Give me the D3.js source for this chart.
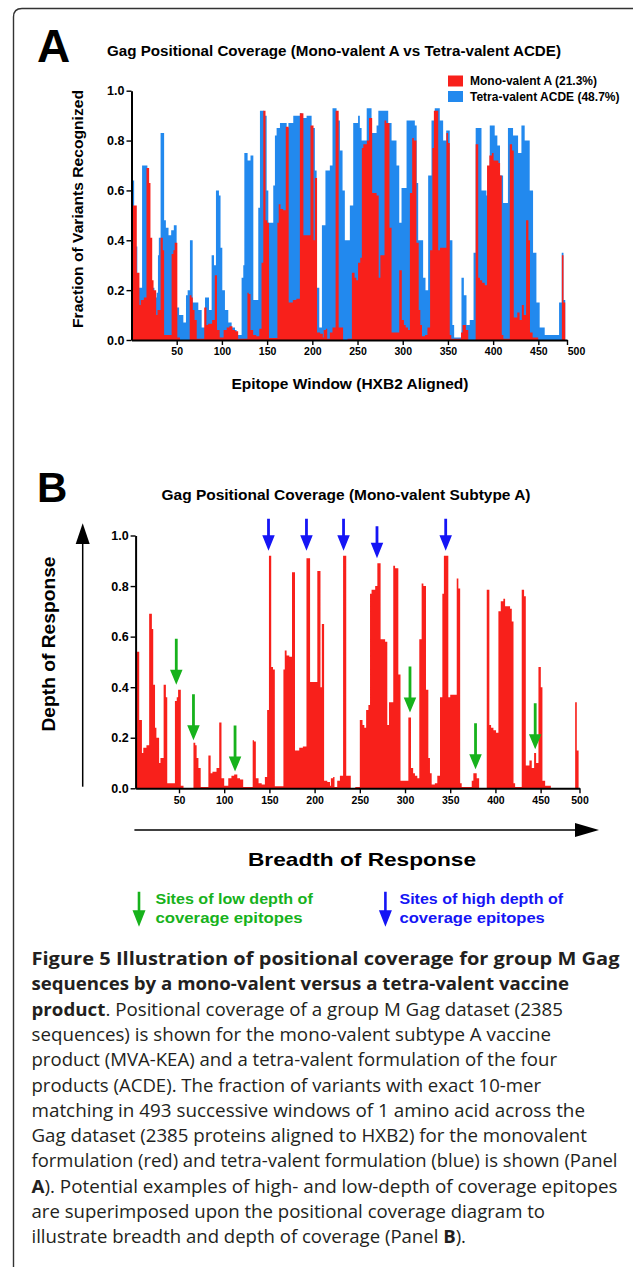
<!DOCTYPE html>
<html><head><meta charset="utf-8">
<script src="https://cdn.jsdelivr.net/npm/d3@7"></script>
<style>
html,body{margin:0;padding:0;background:#fff;}
svg{display:block;}
</style></head><body>
<svg id="fig" width="633" height="1267"></svg>
<script>
// ---------------- DATA ----------------
// [epitope window, fraction of variants recognized] step values
const monoSteps = [[0.5,0.54],[6,0.27],[9,0.14],[10.5,0.16],[14,0.17],[17,0.69],[20,0.63],[21.5,0.41],[23.5,0.24],[25,0.20],[28,0.10],[29.5,0.12],[33,0.41],[35.5,0.36],[37,0.02],[45.5,0.345],[47.5,0.36],[49,0.39],[52,0.01],[55,0.0],[66,0.18],[68,0.17],[69.5,0.12],[71.5,0.08],[74,0.005],[82.5,0.13],[85,0.06],[87,0.065],[91.5,0.08],[94.5,0.26],[97,0.04],[100,0.01],[104.5,0.04],[108,0.05],[111,0.055],[114.5,0.04],[117.5,0.035],[121,0.005],[131.5,0.19],[133,0.185],[135,0.04],[138,0.02],[141.5,0.015],[145,0.045],[147.5,0.31],[149.5,0.92],[152,0.48],[154,0.47],[156,0.008],[165.5,0.47],[167,0.545],[169,0.525],[172,0.52],[175,0.855],[178.3,0.15],[183,0.16],[187,0.165],[191,0.91],[195,0.42],[203,0.86],[206.5,0.40],[208,0.65],[210.5,0.03],[214,0.025],[217,0.01],[218,0.04],[220.5,0.045],[222,0.005],[225,0.03],[228,0.05],[231.5,0.92],[235,0.05],[240,0.0],[245,0.005],[250,0.27],[253,0.25],[255,0.24],[257,0.31],[259.5,0.33],[261.3,0.77],[263,0.785],[267,0.80],[269.4,0.89],[273,0.59],[278,0.58],[280.4,0.25],[282.3,0.34],[287,0.88],[289,0.87],[292.6,0.45],[295,0.03],[303.7,0.28],[306.6,0.08],[309,0.06],[311,0.05],[313.6,0.04],[315.8,0.59],[318.4,0.81],[320.3,0.80],[323.2,0.39],[325.8,0.12],[327.6,0.06],[329.5,0.015],[333,0.02],[335.7,0.05],[338.7,0.36],[341.3,0.77],[343,0.92],[347.9,0.36],[350,0.37],[357.2,0.83],[359,0.79],[361,0.02],[362.7,0.005],[373.8,0.03],[375.6,0.06],[379.3,0.04],[382,0.0],[390.4,0.785],[393.3,0.25],[395.2,0.24],[397.8,0.23],[400.7,0.22],[403.3,0.70],[405.9,0.74],[408.8,0.75],[410.7,0.72],[416.2,0.71],[418.1,0.66],[420,0.02],[421.8,0.005],[429.1,0.785],[431.7,0.76],[433.6,0.09],[437.6,0.11],[440.2,0.08],[442.8,0.14],[445,0.10],[447.6,0.48],[450.2,0.40],[452,0.03],[455,0.01],[461.3,0.0],[488.2,0.34],[490,0.15],[492,0]];

const tetraSteps = [[0,0.72],[1.5,0.64],[3,0.375],[6.6,0.21],[12,0.70],[18,0.46],[20.2,0.26],[23,0.21],[26,0.17],[28.5,0.19],[30,0.34],[31,0.41],[33,0.83],[37,0.48],[39,0.45],[42,0.42],[45,0.44],[48,0.46],[51.2,0.13],[54,0.10],[58.8,0.07],[61.8,0.18],[63.7,0.20],[66.3,0.40],[69.4,0.15],[75.8,0.12],[79.6,0.05],[83.4,0.17],[87.9,0.12],[90.9,0.34],[93.6,0.30],[95.8,0.60],[99.2,0.58],[101,0.37],[103,0.20],[106,0.12],[109.8,0.07],[113.6,0.05],[117.4,0.04],[119.2,0.02],[124.9,0.25],[126.8,0.30],[128,0.75],[131.7,0.72],[135,0.74],[138.2,0.16],[143.8,0.53],[145.7,0.92],[150.3,0.90],[153.3,0.60],[155.2,0.47],[160.8,0.62],[162.7,0.82],[164.6,0.85],[168.4,0.87],[176,0.85],[178,0.87],[183.5,0.90],[191,0.91],[193,0.89],[198.6,0.90],[204.3,0.85],[208,0.68],[210,0.21],[213,0.05],[216,0.46],[220,0.68],[225,0.70],[228,0.93],[232.6,0.88],[236.4,0.76],[239.4,0.60],[242,0.40],[247.7,0.54],[251.5,0.87],[257,0.90],[259,0.85],[261,0.80],[266.8,0.93],[272.3,0.83],[278,0.86],[280,0.92],[291.2,0.87],[295,0.80],[300.6,0.70],[303.7,0.47],[306.3,0.61],[312,0.88],[321.4,0.86],[323.5,0.63],[325.2,0.40],[330.8,0.25],[333.5,0.20],[336.5,0.66],[340.3,0.88],[344,0.93],[349.7,0.88],[353.5,0.80],[357,0.84],[361,0.40],[364,0.06],[366,0.01],[374.3,0.25],[377,0.18],[380,0.06],[383.7,0.08],[388,0.35],[390.4,0.85],[397,0.60],[402.6,0.58],[406.4,0.86],[412,0.82],[415,0.78],[418,0.66],[421.5,0.55],[427,0.85],[432.8,0.82],[438.5,0.75],[442.3,0.86],[446,0.80],[451.7,0.60],[455.5,0.35],[459.3,0.15],[463,0.05],[468.7,0.02],[485,0.15],[488,0.35],[490,0.16],[492,0]];

const xTicks = [50,100,150,200,250,300,350,400,450];
const xEndLabel = "500";
const yTicks = [0,0.2,0.4,0.6,0.8,1.0];

const legendLabels = ["Mono-valent A (21.3%)", "Tetra-valent ACDE (48.7%)"];

// epitope sites marked in panel B: [window, depth at arrow tip]
const highSites = [149, 191, 232, 269, 345];
const highTips  = [0.94, 0.94, 0.94, 0.91, 0.94];
const lowSites  = [47, 66, 112, 305.5, 378, 444];
const lowTips   = [0.41, 0.19, 0.066, 0.30, 0.075, 0.154];

const titleA = "Gag Positional Coverage (Mono-valent A vs Tetra-valent ACDE)";
const titleB = "Gag Positional Coverage (Mono-valent Subtype A)";
const yLabelA = "Fraction of Variants Recognized";
const xLabelA = "Epitope Window  (HXB2 Aligned)";
const yLabelB = "Depth of Response";
const xLabelB = "Breadth of Response";
const lowLegend = ["Sites of low depth of", "coverage epitopes"];
const highLegend = ["Sites of high depth of", "coverage epitopes"];

const captionLines = [
 [["Figure 5 Illustration of positional coverage for group M Gag", true]],
 [["sequences by a mono-valent versus a tetra-valent vaccine", true]],
 [["product", true], [". Positional coverage of a group M Gag dataset (2385", false]],
 [["sequences) is shown for the mono-valent subtype A vaccine", false]],
 [["product (MVA-KEA) and a tetra-valent formulation of the four", false]],
 [["products (ACDE). The fraction of variants with exact 10-mer", false]],
 [["matching in 493 successive windows of 1 amino acid across the", false]],
 [["Gag dataset (2385 proteins aligned to HXB2) for the monovalent", false]],
 [["formulation (red) and tetra-valent formulation (blue) is shown (Panel", false]],
 [["A", true], ["). Potential examples of high- and low-depth of coverage epitopes", false]],
 [["are superimposed upon the positional coverage diagram to", false]],
 [["illustrate breadth and depth of coverage (Panel ", false], ["B", true], [").", false]]
];

// ---------------- STYLE / LAYOUT ----------------
const FONT = "'Liberation Sans', Arial, Helvetica, sans-serif";
const CAPFONT = "'Open Sans', 'Noto Sans', sans-serif";
const RED = "#f8201b", BLUE = "#2289ee", ARROW_BLUE = "#1515f5", GREEN = "#17b21c";
const captionWidths = [588, 537.5, 531.5, 519.5, 525.5, 509.5, 553.5, 555.5, 586, 586, 513.5, 434.5];

const svg = d3.select("#fig");
function fit(sel, w){ return sel.attr("textLength", w).attr("lengthAdjust", "spacingAndGlyphs"); }
function label(x, y, txt, size, opts={}){
  const t = svg.append("text").attr("x", x).attr("y", y).text(txt)
    .attr("font-family", opts.family || FONT).attr("font-size", size)
    .attr("font-weight", opts.weight || "bold").attr("fill", opts.fill || "#000")
    .attr("text-anchor", opts.anchor || "start");
  if (opts.rotate) t.attr("transform", `rotate(${opts.rotate},${x},${y})`);
  if (opts.width) fit(t, opts.width);
  return t;
}

// border
svg.append("path").attr("d", "M13.5,1267 V17 Q13.5,8.5 22,8.5 H640")
  .attr("fill", "none").attr("stroke", "#333").attr("stroke-width", 1.4);

// ---------------- PANEL A ----------------
const xA = d3.scaleLinear().domain([0, 494]).range([131.5, 567]);
const xAaxisScale = d3.scaleLinear().domain([0, 481.7]).range([131.5, 567]);
const yA = d3.scaleLinear().domain([0, 1]).range([340, 90.7]);

const areaA = d3.area().curve(d3.curveStepAfter)
  .x(d => xA(d[0])).y0(yA(0)).y1(d => yA(d[1]));
svg.append("path").datum(tetraSteps).attr("d", areaA).attr("fill", BLUE);
svg.append("path").datum(monoSteps).attr("d", areaA).attr("fill", RED);

function styleAxis(g, fs){
  g.select(".domain").attr("stroke", "#000").attr("stroke-width", 2);
  g.selectAll(".tick line").attr("stroke", "#000").attr("stroke-width", 1.4);
  g.selectAll(".tick text").attr("font-family", FONT).attr("font-weight", "bold")
    .attr("font-size", fs).attr("fill", "#000");
}
const xAxisA = svg.append("g").attr("transform", `translate(0,${yA(0)})`)
  .call(d3.axisBottom(xAaxisScale).tickValues([...xTicks, 481.7]).tickSize(5).tickSizeOuter(0).tickPadding(3)
    .tickFormat(d => d === 481.7 ? xEndLabel : d));
styleAxis(xAxisA, 10.5);
xAxisA.selectAll(".tick text").filter(d => d === 481.7).attr("dx", 9);

const yAxisA = svg.append("g").attr("transform", `translate(${xA(0)},0)`)
  .call(d3.axisLeft(yA).tickValues(yTicks).tickSize(5).tickSizeOuter(0).tickPadding(2)
    .tickFormat(d3.format(".1f")));
styleAxis(yAxisA, 12.5);

label(37, 62, "A", 46);
label(107, 56, titleA, 14.5, {width: 454});
// legend
const legY = [75.5, 91];
legendLabels.forEach((t, i) => {
  svg.append("rect").attr("x", 448).attr("y", legY[i]).attr("width", 15).attr("height", 11)
    .attr("fill", i === 0 ? RED : BLUE);
  label(470, legY[i] + 9.8, t, 12, {width: i === 0 ? 127 : 149.5});
});
label(82.5, 209, yLabelA, 14, {rotate: -90, anchor: "middle", width: 238});
label(350, 389, xLabelA, 14, {anchor: "middle", width: 237});

// ---------------- PANEL B ----------------
const xB = d3.scaleLinear().domain([2, 493]).range([135.6, 579.5]).clamp(true);
const yB = d3.scaleLinear().domain([0, 1]).range([788.3, 535.5]);
const areaB = d3.area().curve(d3.curveStepAfter)
  .x(d => xB(d[0])).y0(yB(0)).y1(d => yB(d[1]));
svg.append("path").datum(monoSteps).attr("d", areaB).attr("fill", RED);

const xAxisB = svg.append("g").attr("transform", `translate(0,${yB(0)})`)
  .call(d3.axisBottom(xB).tickValues([...xTicks, 493]).tickSize(5).tickSizeOuter(0).tickPadding(3)
    .tickFormat(d => d === 493 ? xEndLabel : d));
styleAxis(xAxisB, 10.5);
const yAxisB = svg.append("g").attr("transform", `translate(${xB(2)},0)`)
  .call(d3.axisLeft(yB).tickValues(yTicks).tickSize(5).tickSizeOuter(0).tickPadding(2)
    .tickFormat(d3.format(".1f")));
styleAxis(yAxisB, 12.5);

label(37, 502, "B", 42);
label(161.5, 500, titleB, 14, {width: 369});

// epitope arrows
function arrowPath(x, tipY, total, headL, headW, shaftW){
  const top = tipY - total, hb = tipY - headL;
  return `M${x - shaftW/2},${top} H${x + shaftW/2} V${hb} H${x + headW/2} L${x},${tipY} L${x - headW/2},${hb} H${x - shaftW/2} Z`;
}
svg.append("g").selectAll("path").data(highSites).join("path")
  .attr("d", (d, i) => arrowPath(xB(d), yB(highTips[i]), 32, 15.5, 12.5, 2.8))
  .attr("fill", ARROW_BLUE);
svg.append("g").selectAll("path").data(lowSites).join("path")
  .attr("d", (d, i) => arrowPath(xB(d), yB(lowTips[i]), 46, 15, 12.5, 2.8))
  .attr("fill", GREEN);

// conceptual axes arrows
svg.append("line").attr("x1", 82.7).attr("x2", 82.7).attr("y1", 786.7).attr("y2", 542)
  .attr("stroke", "#000").attr("stroke-width", 1.5);
svg.append("path").attr("d", "M82.7,523.3 L89.7,544 L75.7,544 Z").attr("fill", "#000");
svg.append("line").attr("x1", 134.4).attr("x2", 577).attr("y1", 830).attr("y2", 830)
  .attr("stroke", "#000").attr("stroke-width", 1.5);
svg.append("path").attr("d", "M599,830 L575,823 L575,837 Z").attr("fill", "#000");

label(55, 644, yLabelB, 19, {rotate: -90, anchor: "middle", width: 175});
label(362, 866, xLabelB, 19, {anchor: "middle", width: 228});

// bottom legend
svg.append("path").attr("d", arrowPath(139, 926.7, 35, 16.5, 13, 2.6)).attr("fill", GREEN);
svg.append("path").attr("d", arrowPath(385.4, 926.7, 35, 16.5, 13, 2.6)).attr("fill", ARROW_BLUE);
label(155.4, 904, lowLegend[0], 15.5, {fill: GREEN, width: 157.4});
label(155.4, 922.5, lowLegend[1], 15.5, {fill: GREEN, width: 147.3});
label(399.5, 904, highLegend[0], 15.5, {fill: ARROW_BLUE, width: 163.5});
label(399.5, 922.5, highLegend[1], 15.5, {fill: ARROW_BLUE, width: 145.3});

// ---------------- CAPTION ----------------
captionLines.forEach((segs, i) => {
  const t = svg.append("text").attr("x", 31.5).attr("y", 965 + i * 25.3)
    .attr("font-family", CAPFONT).attr("font-size", 17.5).attr("fill", "#231f20");
  segs.forEach(([s, b]) => t.append("tspan").text(s).attr("font-weight", b ? "bold" : "normal"));
  fit(t, captionWidths[i]);
});
</script>
</body></html>
